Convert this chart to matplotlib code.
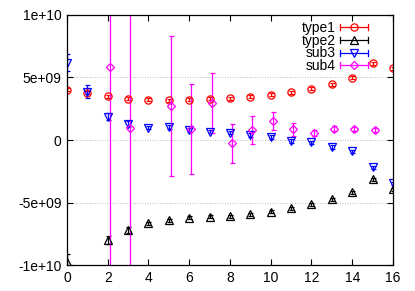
import matplotlib
matplotlib.use("Agg")
import matplotlib.pyplot as plt
from matplotlib.lines import Line2D
from matplotlib.legend_handler import HandlerBase
import numpy as np

plt.rcParams['font.family'] = ['Liberation Sans', 'DejaVu Sans']
plt.rcParams['font.size'] = 10

# data
x_main = list(range(17))
type1_y = [4.0e9, 3.78e9, 3.49e9, 3.28e9, 3.2e9, 3.17e9, 3.2e9, 3.28e9, 3.33e9,
           3.47e9, 3.6e9, 3.81e9, 4.1e9, 4.45e9, 4.96e9, 6.13e9, 5.73e9]
type1_err = [0.12e9] * 17

type2_x = [0, 2, 3, 4, 5, 6, 7, 8, 9, 10, 11, 12, 13, 14, 15, 16]
type2_y = [-9.73e9, -8.0e9, -7.18e9, -6.67e9, -6.4e9, -6.21e9, -6.13e9, -6.08e9,
           -5.92e9, -5.73e9, -5.47e9, -5.12e9, -4.72e9, -4.19e9, -3.15e9, -3.92e9]
type2_err = [0.6e9, 0.35e9, 0.25e9, 0.15e9, 0.12e9, 0.12e9, 0.12e9, 0.12e9,
             0.12e9, 0.12e9, 0.12e9, 0.12e9, 0.12e9, 0.12e9, 0.12e9, 0.12e9]

sub3_y = [6.19e9, 3.87e9, 1.87e9, 1.25e9, 0.99e9, 1.04e9, 0.8e9, 0.67e9, 0.59e9,
          0.37e9, 0.24e9, -0.05e9, -0.19e9, -0.53e9, -0.91e9, -2.19e9, -3.47e9]
sub3_err = [0.65e9, 0.5e9, 0.3e9, 0.25e9, 0.15e9, 0.15e9, 0.15e9, 0.15e9, 0.15e9,
            0.15e9, 0.15e9, 0.15e9, 0.15e9, 0.15e9, 0.15e9, 0.15e9, 0.15e9]

sub4_x = [2.1, 3.1, 5.1, 6.1, 7.1, 8.1, 9.1, 10.1, 11.1, 12.1, 13.1, 14.1, 15.1]
sub4_y = [5.87e9, 0.93e9, 2.72e9, 0.88e9, 2.93e9, -0.27e9, 0.8e9, 1.52e9, 0.85e9,
          0.53e9, 0.91e9, 0.85e9, 0.8e9]
sub4_err = [3e10, 3e10, 5.6e9, 3.63e9, 2.4e9, 1.57e9, 1.1e9, 0.73e9, 0.5e9,
            0.25e9, 0.2e9, 0.15e9, 0.15e9]

xticks = [0, 2, 4, 6, 8, 10, 12, 14, 16]
yticks = [-1e10, -5e9, 0, 5e9, 1e10]
ytick_labels = ["-1e+10", "-5e+09", "0", "5e+09", "1e+10"]


class ErrHandler(HandlerBase):
    # gnuplot style key: horizontal bar with end caps and the point in the middle
    def create_artists(self, legend, orig_handle, xdescent, ydescent,
                       width, height, fontsize, trans):
        c = orig_handle.get_color()
        y = (height - ydescent) / 2.0
        x0, x1 = -xdescent, width - xdescent
        h = 2.2
        arts = [Line2D([x0, x1], [y, y], color=c, lw=0.9),
                Line2D([x0, x0], [y - h, y + h], color=c, lw=0.9),
                Line2D([x1, x1], [y - h, y + h], color=c, lw=0.9),
                Line2D([(x0 + x1) / 2], [y], marker=orig_handle.get_marker(),
                       ms=orig_handle.get_markersize(), mfc='none', mec=c, mew=0.9, lw=0)]
        for a in arts:
            a.set_transform(trans)
        return arts


fig = plt.figure(figsize=(4.15, 2.91), dpi=100)
ax = fig.add_axes([0.1614, 0.0893, 0.7856, 0.8592])

series = [
    (x_main, type1_y, type1_err, '#ff0000', 'o', 5.2, 'type1'),
    (type2_x, type2_y, type2_err, '#000000', '^', 5.5, 'type2'),
    (x_main, sub3_y, sub3_err, '#0000ff', 'v', 5.5, 'sub3'),
    (sub4_x, sub4_y, sub4_err, '#ff00ff', 'D', 4.2, 'sub4'),
]
handles = []
for xs, ys, es, col, mk, ms, lab in series:
    ax.errorbar(xs, ys, yerr=es, fmt=mk, ms=ms, mfc='none', mec=col, mew=0.9,
                ecolor=col, elinewidth=0.9, capsize=1.8, capthick=0.9)
    handles.append(Line2D([], [], color=col, marker=mk, ms=ms, label=lab))

ax.set_xlim(0, 16)
ax.set_ylim(-1e10, 1e10)
ax.set_xticks(xticks)
ax.set_yticks(yticks)
ax.set_yticklabels(ytick_labels)
ax.tick_params(direction='in', top=True, right=True, length=4, width=0.8, pad=4)
for ytk in yticks[1:-1]:
    ax.axhline(ytk, color='#a0a0a0', lw=0.6, ls=(0, (1, 2)), zorder=0)
for s in ax.spines.values():
    s.set_linewidth(0.9)

ax.legend(handles=handles, handler_map={Line2D: ErrHandler()}, loc='upper right',
          bbox_to_anchor=(0.924, 0.975), frameon=False, markerfirst=False,
          handlelength=2.0, handletextpad=0.35, labelspacing=-0.1, borderpad=0,
          borderaxespad=0, fontsize=10)

fig.savefig("out.png", dpi=100)
